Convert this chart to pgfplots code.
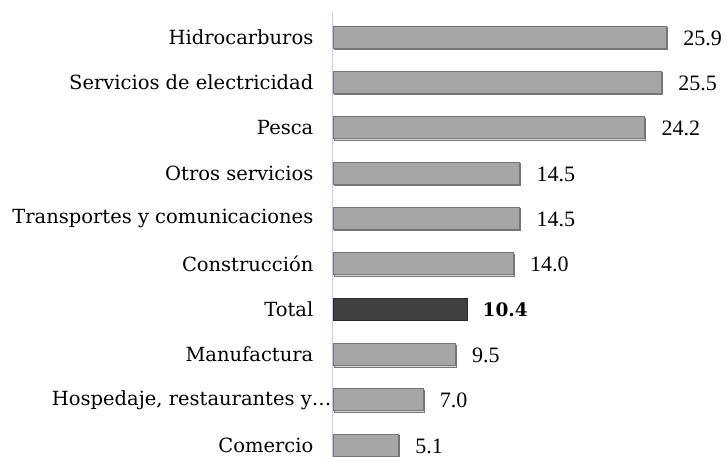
\documentclass[border=0pt]{standalone}
\usepackage{fontspec}
\setmainfont{DejaVu Serif}
\newfontfamily\numfont{Liberation Serif}
\usepackage{pgfplots}
\pgfplotsset{compat=1.18}
\definecolor{barfill}{RGB}{166,166,166}
\definecolor{barline}{RGB}{118,118,118}
\definecolor{totfill}{RGB}{64,64,64}
\definecolor{totline}{RGB}{40,40,40}
\definecolor{axiscol}{RGB}{196,208,228}
\newcommand\hosp{\makebox[\dimexpr\width-18pt\relax][l]{Hospedaje, restaurantes y…}}
\begin{document}
\begin{tikzpicture}
\begin{axis}[
    name=ax,
    xbar, bar shift=0pt,
    scale only axis,
    width=393pt, height=445pt,
    xmin=0, xmax=30.5,
    ymin=-0.26, ymax=9.55,
    bar width=22pt,
    clip=false,
    axis x line=none,
    axis y line=left,
    y axis line style={draw=axiscol, line width=1pt, -},
    ytick={0,...,9},
    yticklabels={Comercio, \hosp, Manufactura, Total,
      Construcción, Transportes y comunicaciones, Otros servicios, Pesca,
      Servicios de electricidad, Hidrocarburos},
    ytick style={draw=none},
    yticklabel style={font=\fontsize{19.5}{22}\selectfont, xshift=-14pt},
    nodes near coords,
    every node near coord/.append style={font=\numfont\fontsize{22}{24}\selectfont,
      anchor=west, xshift=13pt, yshift=-1pt},
    point meta=explicit symbolic,
]
\addplot[fill=barfill, draw=barline, line width=0.8pt,
  preaction={fill=black!15, transform canvas={xshift=1pt, yshift=-1.5pt}}]
  coordinates {
  (5.1,0) [5.1]
  (7.0,1) [7.0]
  (9.5,2) [9.5]
  (14.0,4) [14.0]
  (14.5,5) [14.5]
  (14.5,6) [14.5]
  (24.2,7) [24.2]
  (25.5,8) [25.5]
  (25.9,9) [25.9]
};
\addplot[fill=totfill, draw=totline, line width=0.8pt,
  every node near coord/.append style={font=\fontsize{18.5}{22}\selectfont\bfseries, xshift=-1pt}]
  coordinates {(10.4,3) [10.4]};
\end{axis}
\pgfresetboundingbox
\path[use as bounding box] ([xshift=-333pt]ax.south west) rectangle ([yshift=12pt]ax.north east);
\end{tikzpicture}
\end{document}
